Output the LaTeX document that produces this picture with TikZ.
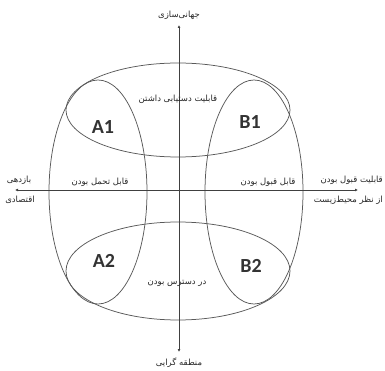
\documentclass[tikz,border=0pt]{standalone}
\usepackage{fontspec}
\usetikzlibrary{arrows.meta}
\newfontfamily\farsi[Script=Arabic]{DejaVu Sans}
\newfontfamily\latinsf{Carlito}
\TeXXeTstate=1

\tikzset{
  lbl/.style={font=\farsi\fontsize{8.5}{10}\selectfont, text=black!85, inner sep=1pt},
  zone/.style={font=\latinsf\bfseries\fontsize{20}{20}\selectfont, text=black!80},
  loop/.style={draw=black!65, line width=0.75pt},
  axis/.style={draw=black!75, line width=0.75pt, {Latex[length=3pt,width=3pt]}-{Latex[length=3pt,width=3pt]}},
}

\begin{document}
\begin{tikzpicture}[x=1pt, y=-1pt]

\useasboundingbox (0,0) rectangle (385,371);

% the four overlapping loops
\draw[loop] (178,110) ellipse [x radius=112, y radius=47];
\draw[loop] (178,271) ellipse [x radius=112, y radius=49];
\draw[loop] (98,192) ellipse [x radius=49, y radius=112];
\draw[loop] (254,192) ellipse [x radius=49, y radius=112];

% axes
\coordinate (top) at (179,25);
\coordinate (bottom) at (179,352);
\coordinate (left) at (15,190);
\coordinate (right) at (358,190);
\draw[axis] (bottom) -- (top);
\draw[axis] (left) -- (right);

% axis ends
\node (global) [lbl] at (179,15) {\beginR جهانی‌سازی\endR};
\node (regional) [lbl] at (179,363) {\beginR منطقه گرایی\endR};
\node (yield) [lbl] at (19,180) {\beginR بازدهی\endR};
\node (economic) [lbl] at (20,200) {\beginR اقتصادی\endR};
\node (accept) [lbl, anchor=east] at (384,180) {\beginR قابلیت قبول بودن\endR};
\node (environ) [lbl, anchor=east] at (384,200) {\beginR از نظر محیط‌زیست\endR};

% loop labels
\node (reach) [lbl] at (178,99) {\beginR قابلیت دستیابی داشتن\endR};
\node (bear) [lbl] at (100,182) {\beginR قابل تحمل بودن\endR};
\node (okay) [lbl] at (268,182) {\beginR قابل قبول بودن\endR};
\node (access) [lbl] at (177,283) {\beginR در دسترس بودن\endR};

% zones
\node (a1) [zone] at (103,127) {A1};
\node (b1) [zone] at (250,122) {B1};
\node (a2) [zone] at (104,261) {A2};
\node (b2) [zone] at (251,266) {B2};

\end{tikzpicture}
\end{document}
